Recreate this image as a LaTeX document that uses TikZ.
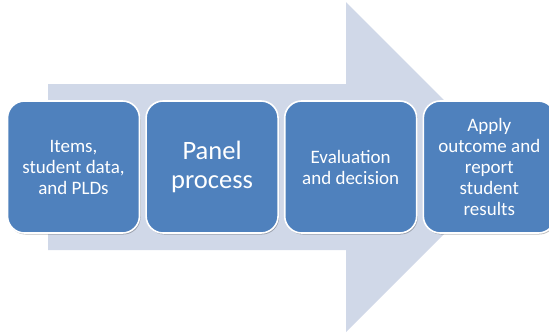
\documentclass[tikz,border=0pt]{standalone}
\usepackage{fontspec}
\setmainfont{Carlito}
\usetikzlibrary{positioning,shadows}

\definecolor{stepblue}{HTML}{4F81BD}
\definecolor{arrowgrey}{HTML}{D0D8E8}

\tikzset{
  stepbox/.style = {draw = white, line width = 1.6pt, fill = stepblue, rounded corners = 17pt,
                    minimum width = 132pt, minimum height = 132pt, inner sep = 2pt,
                    text = white, align = center, font = \fontsize{19}{21}\selectfont,
                    drop shadow = {shadow xshift = 1pt, shadow yshift = -1.5pt, opacity = .25, fill = black}},
}

\begin{document}
\begin{tikzpicture}[x = 1pt, y = -1pt]
\clip (0,0) rectangle (549,333);
\fill[arrowgrey] (48,84) -- (346,84) -- (346,2) -- (511,167) -- (346,332) -- (346,250) -- (48,250) -- cycle;

\node[stepbox] (items) at (73.5,167) {Items,\\ student data,\\ and PLDs};
\node[stepbox, right = 5pt of items, font = \fontsize{26.5}{29.5}\selectfont] (panel) {Panel\\ process};
\node[stepbox, right = 5pt of panel] (evaluation) {Evaluation\\ and decision};
\node[stepbox, right = 5pt of evaluation] (apply) {Apply\\ outcome and\\ report\\ student\\ results};
\end{tikzpicture}
\end{document}
